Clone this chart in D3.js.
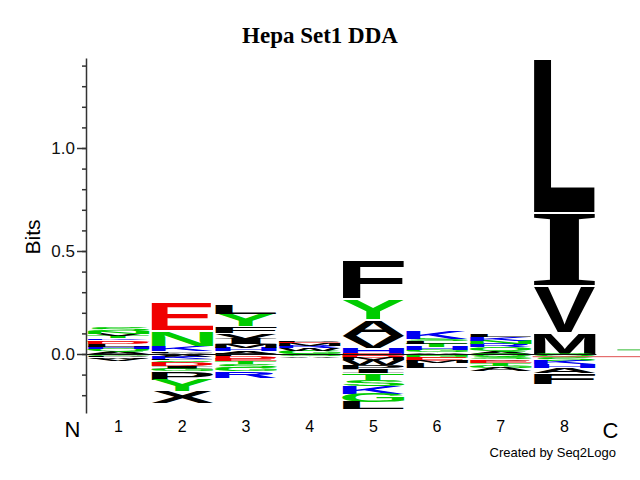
<!DOCTYPE html>
<html>
<head>
<meta charset="utf-8">
<script src="https://cdn.jsdelivr.net/npm/d3@7"></script>
<style>
  body { margin: 0; background: #fff; }
  svg { display: block; font-family: 'Liberation Sans', Arial, sans-serif; }
</style>
</head>
<body>
<svg width="640" height="480"></svg>
<script>
(function() {
  'use strict';

  const title = 'Hepa Set1 DDA';
  const positions = [1, 2, 3, 4, 5, 6, 7, 8];

  // letters above zero, listed from the top of the stack down to zero (bits)
  const above = [
    [['S', 0.020], ['N', 0.013], ['V', 0.011], ['T', 0.011], ['K', 0.008], ['E', 0.008],
      ['D', 0.011], ['L', 0.013], ['H', 0.011], ['Q', 0.012], ['A', 0.013]],
    [['E', 0.139], ['N', 0.078], ['K', 0.023], ['L', 0.007], ['A', 0.007]],
    [['L', 0.044], ['Y', 0.062], ['F', 0.032], ['V', 0.027], ['I', 0.029], ['M', 0.016],
      ['H', 0.016], ['A', 0.014]],
    [['P', 0.008], ['E', 0.008], ['M', 0.011], ['R', 0.013], ['W', 0.011], ['G', 0.016]],
    [['F', 0.188], ['Y', 0.098], ['A', 0.082], ['V', 0.058], ['H', 0.030]],
    [['K', 0.036], ['S', 0.011], ['L', 0.011], ['T', 0.016], ['H', 0.016], ['G', 0.010],
      ['A', 0.008]],
    [['L', 0.011], ['K', 0.016], ['N', 0.016], ['R', 0.016], ['Q', 0.021], ['A', 0.012]],
    [['L', 0.750], ['I', 0.355], ['V', 0.223], ['M', 0.109]],
  ];

  // letters below zero, listed from zero downwards (bits)
  const below = [
    [['G', 0.008], ['P', 0.006], ['W', 0.008], ['V', 0.012]],
    [['A', 0.013], ['K', 0.010], ['L', 0.008], ['S', 0.008], ['D', 0.018], ['I', 0.016],
      ['G', 0.012], ['P', 0.040], ['Y', 0.053], ['X', 0.058]],
    [['P', 0.012], ['D', 0.010], ['E', 0.013], ['T', 0.013], ['S', 0.021], ['G', 0.016],
      ['R', 0.032]],
    [['G', 0.012], ['A', 0.008]],
    [['E', 0.009], ['D', 0.009], ['M', 0.011], ['W', 0.022], ['P', 0.021], ['I', 0.022],
      ['T', 0.030], ['S', 0.034], ['K', 0.034], ['G', 0.042], ['L', 0.035]],
    [['N', 0.008], ['G', 0.010], ['E', 0.016], ['M', 0.012], ['L', 0.022]],
    [['Q', 0.012], ['S', 0.012], ['V', 0.008], ['E', 0.012], ['T', 0.012], ['G', 0.012],
      ['A', 0.015]],
    [['Q', 0.015], ['S', 0.018], ['K', 0.016], ['H', 0.020], ['A', 0.024], ['F', 0.052]],
  ];

  const minorTicks = d3.range(-2, 15).map((i) => i / 10);
  const majorTicks = [0, 0.5, 1.0];
  const yExtent = [-0.286, 1.437];

  const colors = {
    acidic: '#f00000',
    basic: '#0000f0',
    polar: '#00cc00',
    hydrophobic: '#000000',
  };
  const groups = {
    D: 'acidic', E: 'acidic',
    K: 'basic', R: 'basic', H: 'basic',
    G: 'polar', S: 'polar', T: 'polar', Y: 'polar', N: 'polar', Q: 'polar', C: 'polar',
  };
  const colorOf = (ch) => colors[groups[ch] || 'hydrophobic'];

  const svg = d3.select('svg');

  const x = d3.scaleLinear().domain([1, 8]).range([118.5, 564.5]);
  const y = d3.scaleLinear().domain([0, 1]).range([354, 148]);
  const yAxisScale = y.copy().domain(yExtent).range(yExtent.map(y));
  const colW = x(2) - x(1);
  const letterW = colW - 1.5;

  // tight glyph bounds, measured on a canvas
  const ctx = document.createElement('canvas').getContext('2d');
  const fontFor = (ch) => ch === 'I' ? 'Liberation Serif' : 'Liberation Sans';
  const boxCache = {};
  function glyphBox(ch) {
    if (!boxCache[ch]) {
      ctx.font = 'bold 100px "' + fontFor(ch) + '"';
      const m = ctx.measureText(ch);
      boxCache[ch] = {
        left: m.actualBoundingBoxLeft,
        w: m.actualBoundingBoxLeft + m.actualBoundingBoxRight,
        asc: m.actualBoundingBoxAscent,
        h: m.actualBoundingBoxAscent + m.actualBoundingBoxDescent,
      };
    }
    return boxCache[ch];
  }

  // flatten stacks into letter boxes in data units
  const letters = [];
  positions.forEach((p, i) => {
    let top = 0;
    above[i].slice().reverse().forEach(([ch, v]) => {
      letters.push({pos: p, ch: ch, y0: top + v, y1: top});
      top += v;
    });
    let bottom = 0;
    below[i].forEach(([ch, v]) => {
      letters.push({pos: p, ch: ch, y0: bottom, y1: bottom - v});
      bottom -= v;
    });
  });

  const logo = svg.append('g').attr('class', 'logo');

  logo.selectAll('text.letter')
      .data(letters)
      .enter()
      .append('text')
      .attr('class', 'letter')
      .style('font-family', (d) => '"' + fontFor(d.ch) + '"')
      .style('font-weight', 'bold')
      .style('font-size', '100px')
      .attr('fill', (d) => colorOf(d.ch))
      .attr('transform', (d) => {
        const b = glyphBox(d.ch);
        const left = x(d.pos) - letterW / 2;
        const full = y(d.y1) - y(d.y0);
        // small white gap between the bigger letters of a stack
        const gap = full > 15 ? 1.5 : 0;
        const topY = y(d.y0) + gap;
        const h = full - gap;
        return 'translate(' + left + ',' + topY + ') scale(' +
            (letterW / b.w) + ',' + (h / b.h) + ') translate(' +
            b.left + ',' + b.asc + ')';
      })
      .text((d) => d.ch);

  // baseline at zero, plus the faint lines running to the right edge
  svg.append('line')
      .attr('x1', 86)
      .attr('x2', x(8) + colW / 2)
      .attr('y1', y(0) + 0.5).attr('y2', y(0) + 0.5)
      .attr('stroke', '#111').attr('stroke-width', 1);
  svg.append('line')
      .attr('x1', x(8) - colW / 2).attr('x2', 640)
      .attr('y1', y(-0.013)).attr('y2', y(-0.013))
      .attr('stroke', '#e05050').attr('stroke-width', 1);
  svg.append('line')
      .attr('x1', x(8) + colW * 0.83).attr('x2', 640)
      .attr('y1', y(0.02)).attr('y2', y(0.02))
      .attr('stroke', '#33bb33').attr('stroke-width', 1);

  // y axis
  const axisG = svg.append('g')
      .attr('transform', 'translate(86,0)');
  axisG.append('g')
      .call(d3.axisLeft(yAxisScale)
          .tickValues(minorTicks)
          .tickSize(4)
          .tickSizeOuter(0)
          .tickFormat(''));
  axisG.append('g')
      .call(d3.axisLeft(yAxisScale)
          .tickValues(majorTicks)
          .tickSize(9)
          .tickSizeOuter(0)
          .tickPadding(2)
          .tickFormat(d3.format('.1f')))
      .call((g) => g.select('.domain').remove());
  axisG.selectAll('path, line')
      .attr('stroke', '#333')
      .attr('stroke-width', 1.5);
  axisG.selectAll('text')
      .style('font-family', '"Liberation Sans"')
      .style('font-size', '17px')
      .attr('fill', '#111');

  svg.append('text')
      .attr('transform', 'translate(40,237) rotate(-90)')
      .attr('text-anchor', 'middle')
      .style('font-size', '21px')
      .text('Bits');

  // x labels
  svg.selectAll('text.pos')
      .data(positions)
      .enter()
      .append('text')
      .attr('class', 'pos')
      .attr('x', (d) => x(d))
      .attr('y', 432)
      .attr('text-anchor', 'middle')
      .style('font-size', '16px')
      .text((d) => d);

  svg.append('text')
      .attr('x', x(1) - 46).attr('y', 437)
      .attr('text-anchor', 'middle')
      .style('font-size', '22px')
      .text('N');
  svg.append('text')
      .attr('x', x(8) + 46).attr('y', 438)
      .attr('text-anchor', 'middle')
      .style('font-size', '22px')
      .text('C');

  svg.append('text')
      .attr('x', 320).attr('y', 43)
      .attr('text-anchor', 'middle')
      .style('font-family', '"Liberation Serif", serif')
      .style('font-weight', 'bold')
      .style('font-size', '23px')
      .text(title);

  svg.append('text')
      .attr('x', 616).attr('y', 457)
      .attr('text-anchor', 'end')
      .style('font-size', '13px')
      .text('Created by Seq2Logo');
})();
</script>
</body>
</html>
